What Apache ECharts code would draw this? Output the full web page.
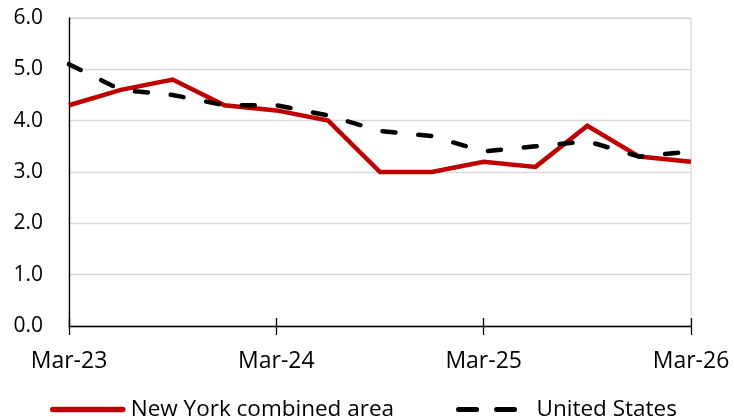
<!DOCTYPE html>
<html>
<head>
<meta charset="utf-8">
<script src="https://cdn.jsdelivr.net/npm/echarts@6/dist/echarts.min.js"></script>
<style>html,body{margin:0;padding:0;background:#fff;}#c{width:734px;height:417px;}</style>
</head>
<body>
<div id="c"></div>
<script>
const categories = ['Mar-23','Jun-23','Sep-23','Dec-23','Mar-24','Jun-24','Sep-24','Dec-24','Mar-25','Jun-25','Sep-25','Dec-25','Mar-26'];
const newYork = [4.3, 4.6, 4.8, 4.3, 4.2, 4.0, 3.0, 3.0, 3.2, 3.1, 3.9, 3.3, 3.2];
const unitedStates = [5.1, 4.6, 4.5, 4.3, 4.3, 4.1, 3.8, 3.7, 3.4, 3.5, 3.6, 3.3, 3.4];
const yTicks = [0, 1, 2, 3, 4, 5, 6];

const FONT = '"Open Sans", "Noto Sans", sans-serif';
const chart = echarts.init(document.getElementById('c'), null, {renderer: 'canvas'});
chart.setOption({
  animation: false,
  backgroundColor: '#fff',
  grid: {left: 69, right: 43, top: 18, bottom: 91, show: true, borderColor: '#d0d0d0', borderWidth: 1},
  legend: {
    left: 50, top: 398, itemWidth: 70, itemHeight: 14, itemGap: 62,
    padding: 0,
    itemStyle: {opacity: 0},
    textStyle: {fontFamily: FONT, fontSize: 22.5, color: '#000', padding: [0, 0, 0, 3]},
    data: [
      {name: 'New York combined area', lineStyle: {width: 5.5, color: '#C00000', cap: 'round', type: 'solid'}},
      {name: 'United States', lineStyle: {width: 5, color: '#000', type: [18, 20], cap: 'round'}}
    ]
  },
  xAxis: [
    {
      type: 'category', data: categories, boundaryGap: false,
      axisLine: {show: true, lineStyle: {color: '#000', width: 1.3}},
      axisTick: {show: true, interval: 3, length: 9, lineStyle: {color: '#000', width: 1.3}},
      axisLabel: {interval: 3, margin: 24, fontFamily: FONT, fontSize: 23, color: '#000'},
      splitLine: {show: false}
    },
    {
      type: 'category', data: categories, boundaryGap: false, position: 'bottom',
      axisLine: {show: false},
      axisTick: {show: true, inside: true, interval: 3, length: 8, lineStyle: {color: '#000', width: 1.3}},
      axisLabel: {show: false},
      splitLine: {show: false}
    }
  ],
  yAxis: {
    type: 'value', min: yTicks[0], max: yTicks[yTicks.length - 1], interval: 1,
    axisLine: {show: true, lineStyle: {color: '#000', width: 1.3}},
    axisTick: {show: false},
    axisLabel: {margin: 26, fontFamily: FONT, fontSize: 21, color: '#000', formatter: v => v.toFixed(1)},
    splitLine: {show: true, lineStyle: {color: '#d9d9d9', width: 1.3}}
  },
  series: [
    {
      name: 'New York combined area', type: 'line', data: newYork,
      symbol: 'none', lineStyle: {color: '#C00000', width: 4.5, join: 'miter'}, itemStyle: {color: '#C00000'}, z: 3
    },
    {
      name: 'United States', type: 'line', data: unitedStates,
      symbol: 'none', lineStyle: {color: '#000', width: 4.5, type: [13, 23], cap: 'round'}, itemStyle: {color: '#000'}, z: 4
    }
  ]
});
</script>
</body>
</html>
